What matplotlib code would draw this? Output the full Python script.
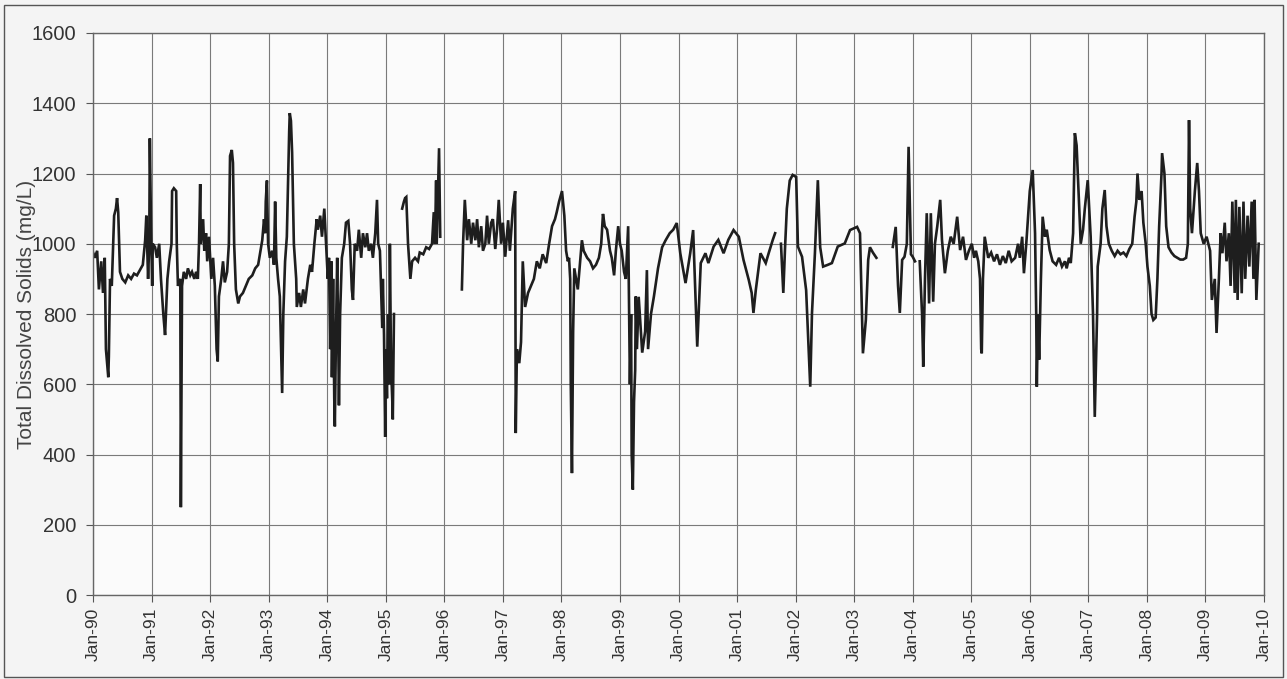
import numpy as np
import matplotlib
matplotlib.use("Agg")
import matplotlib.pyplot as plt
from matplotlib.patches import Rectangle

plt.rcParams['font.family'] = ['Liberation Sans', 'DejaVu Sans']

nan = float('nan')

# decimal year of each sample (nan = gap in record)
years = [
    1990.00, 1990.03, 1990.07, 1990.10, 1990.14, 1990.17, 1990.20, 1990.22, 1990.26, 1990.27,
    1990.29, 1990.32, 1990.36, 1990.39, 1990.41, 1990.43, 1990.46, 1990.50, 1990.55, 1990.60,
    1990.65, 1990.70, 1990.75, 1990.80, 1990.85, 1990.89, 1990.91, 1990.92, 1990.94, 1990.96,
    1990.97, 1990.99, 1991.01,
    1991.02, 1991.06, 1991.09, 1991.13, 1991.16, 1991.20, 1991.23, 1991.27, 1991.30, 1991.34,
    1991.35, 1991.38, 1991.42, 1991.43, 1991.45, 1991.49, 1991.50, 1991.52, 1991.55, 1991.59,
    1991.62, 1991.66, 1991.69, 1991.73, 1991.76, 1991.79, 1991.81, 1991.83, 1991.84, 1991.88,
    1991.90, 1991.93, 1991.95, 1991.98, 1992.02, 1992.05,
    1992.08, 1992.11, 1992.13, 1992.15, 1992.19, 1992.22, 1992.25, 1992.29, 1992.32, 1992.34,
    1992.37, 1992.39, 1992.41, 1992.44, 1992.48, 1992.51, 1992.56, 1992.61, 1992.66, 1992.72,
    1992.77, 1992.82, 1992.85, 1992.89, 1992.92, 1992.94, 1992.95, 1992.97, 1992.99,
    1993.02, 1993.06, 1993.09, 1993.11, 1993.13, 1993.16, 1993.19, 1993.23, 1993.25, 1993.28,
    1993.31, 1993.35, 1993.36, 1993.38, 1993.40, 1993.43, 1993.47, 1993.48, 1993.52, 1993.55,
    1993.59, 1993.62, 1993.67, 1993.71, 1993.74, 1993.78, 1993.82, 1993.84, 1993.88, 1993.91,
    1993.95, 1993.98, 1994.01,
    1994.03, 1994.05, 1994.07, 1994.08, 1994.10, 1994.12, 1994.13, 1994.15, 1994.17, 1994.19,
    1994.20, 1994.22, 1994.25, 1994.29, 1994.32, 1994.36, 1994.39, 1994.42, 1994.44, 1994.47,
    1994.51, 1994.54, 1994.58, 1994.61, 1994.65, 1994.68, 1994.71, 1994.75, 1994.78, 1994.82,
    1994.85, 1994.87, 1994.90, 1994.94, 1994.95, 1994.97, 1994.99,
    1995.00, 1995.02, 1995.04, 1995.06, 1995.07, 1995.09, 1995.11, 1995.12, 1995.14, nan,
    1995.28, 1995.31, 1995.33, 1995.35, 1995.38, 1995.42, 1995.45, 1995.50, 1995.55, 1995.58,
    1995.64, 1995.69, 1995.74, 1995.79, 1995.82, 1995.84, 1995.86, 1995.87, 1995.91, 1995.93, nan,
    1996.30, 1996.32, 1996.35, 1996.39, 1996.42, 1996.46, 1996.49, 1996.53, 1996.56, 1996.59,
    1996.63, 1996.66, 1996.70, 1996.73, 1996.76, 1996.80, 1996.83, 1996.87, 1996.90, 1996.93,
    1996.97,
    1997.00, 1997.04, 1997.09, 1997.12, 1997.17, 1997.21, 1997.22, 1997.24, 1997.28, 1997.31,
    1997.34, 1997.38, 1997.43, 1997.48, 1997.53, 1997.58, 1997.63, 1997.68, 1997.74, 1997.79,
    1997.84, 1997.89, 1997.92, 1997.96,
    1998.01, 1998.05, 1998.08, 1998.11, 1998.13, 1998.15, 1998.16, 1998.18, 1998.20, 1998.22,
    1998.25, 1998.28, 1998.32, 1998.35, 1998.38, 1998.44, 1998.49, 1998.54, 1998.59, 1998.64,
    1998.68, 1998.71, 1998.74, 1998.78, 1998.83, 1998.86, 1998.90, 1998.93, 1998.97,
    1999.00, 1999.03, 1999.07, 1999.10, 1999.14, 1999.15, 1999.17, 1999.19, 1999.20, 1999.22,
    1999.24, 1999.26, 1999.27, 1999.29, 1999.32, 1999.38, 1999.43, 1999.46, 1999.48, 1999.53,
    1999.58, 1999.65, 1999.72, 1999.78, 1999.85, 1999.91, 1999.97,
    2000.03, 2000.12, 2000.20, 2000.25, 2000.32, 2000.38, 2000.46, 2000.51, 2000.60, 2000.68,
    2000.77, 2000.85, 2000.94,
    2001.03, 2001.11, 2001.20, 2001.25, 2001.28, 2001.32, 2001.40, 2001.49, 2001.54, 2001.61,
    2001.65, nan, 2001.75, 2001.79, 2001.82, 2001.85, 2001.90, 2001.95,
    2002.01, 2002.04, 2002.11, 2002.18, 2002.25, 2002.28, 2002.33, 2002.38, 2002.42, 2002.47,
    2002.55, 2002.62, 2002.72, 2002.84, 2002.93,
    2003.05, 2003.10, 2003.15, 2003.20, 2003.24, 2003.27, 2003.32, 2003.38, nan,
    2003.66, 2003.71, 2003.75, 2003.78, 2003.82, 2003.86, 2003.90, 2003.93, 2003.97,
    2004.00, 2004.04, nan,
    2004.12, 2004.16, 2004.18, 2004.21, 2004.24, 2004.28, 2004.31, 2004.35, 2004.38, 2004.42,
    2004.47, 2004.50, 2004.55, 2004.60, 2004.65, 2004.70, 2004.76, 2004.81, 2004.86, 2004.91,
    2004.96,
    2005.01, 2005.05, 2005.08, 2005.12, 2005.15, 2005.17, 2005.18, 2005.20, 2005.23, 2005.29,
    2005.34, 2005.39, 2005.44, 2005.49, 2005.54, 2005.59, 2005.64, 2005.69, 2005.75, 2005.80,
    2005.83, 2005.87, 2005.90, 2005.94, 2005.97,
    2006.00, 2006.05, 2006.09, 2006.11, 2006.12, 2006.14, 2006.16, 2006.19, 2006.22, 2006.26,
    2006.29, 2006.34, 2006.39, 2006.45, 2006.50, 2006.55, 2006.60, 2006.63, 2006.67, 2006.70,
    2006.74, 2006.77, 2006.80, 2006.84, 2006.87, 2006.91, 2006.94, 2006.99,
    2007.04, 2007.08, 2007.11, 2007.15, 2007.16, 2007.21, 2007.24, 2007.28, 2007.31, 2007.35,
    2007.40, 2007.45, 2007.50, 2007.55, 2007.60, 2007.65, 2007.70, 2007.75, 2007.79, 2007.82,
    2007.84, 2007.87, 2007.91, 2007.94, 2007.98,
    2008.01, 2008.05, 2008.08, 2008.11, 2008.15, 2008.18, 2008.21, 2008.25, 2008.26, 2008.30,
    2008.33, 2008.37, 2008.42, 2008.47, 2008.52, 2008.57, 2008.62, 2008.67, 2008.70, 2008.72,
    2008.74, 2008.77, 2008.82, 2008.86, 2008.89, 2008.92, 2008.97,
    2009.02, 2009.08, 2009.11, 2009.16, 2009.19, 2009.23, 2009.26, 2009.29, 2009.33, 2009.36,
    2009.40, 2009.43, 2009.46, 2009.50, 2009.52, 2009.55, 2009.58, 2009.62, 2009.65, 2009.68,
    2009.72, 2009.75, 2009.79, 2009.82, 2009.84, 2009.87, 2009.91,
]

# total dissolved solids, mg/L (nan = gap in record)
tds = [
    975, 960, 980, 870, 950, 860, 960, 700, 620, 680,
    900, 880, 1080, 1100, 1130, 1090, 920, 900, 890, 910,
    900, 915, 910, 925, 940, 1010, 1080, 1020, 900, 1000,
    1300, 1050, 880,
    1000, 990, 960, 1000, 900, 800, 740, 900, 950, 1000,
    1150, 1158, 1150, 1000, 880, 900, 250, 880, 920, 900,
    930, 910, 920, 900, 920, 900, 1000, 1170, 1000, 1070,
    980, 1030, 950, 1020, 900, 960,
    880, 700, 665, 850, 900, 950, 890, 920, 1000, 1250,
    1267, 1230, 1000, 870, 830, 850, 860, 880, 900, 910,
    930, 940, 970, 1010, 1070, 1030, 1120, 1180, 1000,
    960, 980, 940, 1120, 960, 900, 850, 575, 800, 950,
    1020, 1320, 1372, 1350, 1260, 1000, 900, 820, 860, 820,
    870, 830, 900, 940, 920, 1000, 1070, 1040, 1080, 1020,
    1100, 1000, 900,
    960, 700, 950, 620, 900, 560, 480, 750, 960, 700,
    540, 800, 960, 1000, 1060, 1065, 1000, 870, 840, 1000,
    980, 1040, 960, 1030, 990, 1030, 980, 1000, 960, 1030,
    1125, 1000, 980, 760, 900, 740, 450,
    700, 560, 800, 600, 1000, 650, 560, 500, 800, nan,
    1100, 1120, 1130, 1133, 1000, 900, 950, 960, 950, 975,
    970, 990, 985, 1000, 1090, 1000, 1180, 1000, 1272, 1020, nan,
    870, 1000, 1125, 1010, 1070, 1000, 1060, 1010, 1070, 990,
    1050, 980, 1000, 1080, 1000, 1060, 1070, 985, 1040, 1125,
    1000,
    1060, 963, 1067, 980, 1100, 1150, 461, 700, 660, 720,
    950, 820, 860, 880, 900, 950, 930, 970, 945, 1000,
    1050, 1070, 1090, 1120,
    1150, 1080, 980, 950, 960, 900, 600, 347, 750, 930,
    900, 870, 950, 1010, 980, 960, 950, 930, 940, 960,
    1000, 1085, 1050, 1040, 980, 960, 910, 980, 1050,
    1000, 980, 920, 900, 1050, 900, 600, 800, 400, 300,
    550, 640, 850, 700, 849, 690, 750, 925, 700, 800,
    850, 930, 990, 1010, 1030, 1040, 1059,
    973, 888, 973, 1039, 707, 945, 973, 945, 992, 1011,
    973, 1011, 1039,
    1020, 954, 897, 860, 803, 868, 973, 945, 973, 1011,
    1030, nan, 1000, 860, 990, 1100, 1180, 1196,
    1190, 992, 963, 868, 593, 803, 973, 1181, 990, 935,
    940, 945, 992, 1001, 1039,
    1048, 1030, 688, 783, 954, 990, 975, 960, nan,
    991, 1048, 880, 803, 954, 963, 1000, 1276, 970,
    963, 950, nan,
    950, 800, 650, 900, 1087, 830, 1087, 835, 1000, 1050,
    1125, 1011, 916, 980, 1020, 1000, 1077, 982, 1020, 954,
    980,
    1000, 960, 980, 950, 900, 700, 688, 900, 1020, 960,
    975, 950, 970, 940, 965, 945, 980, 950, 960, 1000,
    960, 1020, 916, 1000, 1077,
    1150, 1210, 1030, 800, 593, 800, 670, 900, 1077, 1020,
    1040, 982, 950, 940, 960, 935, 950, 930, 960, 945,
    1030, 1315, 1280, 1116, 1000, 1040, 1100, 1181,
    1020, 800, 507, 800, 935, 1000, 1100, 1153, 1050, 1000,
    980, 965, 980, 970, 975, 965, 985, 1000, 1077, 1120,
    1200, 1125, 1150, 1060, 1000,
    935, 880, 800, 783, 790, 900, 1050, 1200, 1258, 1200,
    1050, 990, 975, 965, 960, 955, 955, 960, 1000, 1352,
    1100, 1030, 1150, 1230, 1150, 1030, 1000,
    1020, 980, 840, 900, 746, 900, 1030, 973, 1060, 950,
    1030, 880, 1120, 860, 1125, 840, 1105, 859, 1120, 900,
    1080, 935, 1120, 900, 1125, 840, 1000,
]

tick_years = list(range(1990, 2011))
tick_labels = ['Jan-90', 'Jan-91', 'Jan-92', 'Jan-93', 'Jan-94', 'Jan-95', 'Jan-96',
               'Jan-97', 'Jan-98', 'Jan-99', 'Jan-00', 'Jan-01', 'Jan-02', 'Jan-03',
               'Jan-04', 'Jan-05', 'Jan-06', 'Jan-07', 'Jan-08', 'Jan-09', 'Jan-10']
y_ticks = [0, 200, 400, 600, 800, 1000, 1200, 1400, 1600]

fig = plt.figure(figsize=(12.87, 6.79), dpi=100)
fig.patch.set_facecolor('#f4f4f4')
fig.patches.append(Rectangle((0.003, 0.003), 0.994, 0.99, transform=fig.transFigure,
                             fill=False, edgecolor='#555555', linewidth=1.0))

ax = fig.add_axes([0.0723, 0.1237, 0.9098, 0.8277])
ax.set_facecolor('#fbfbfb')
ax.plot(years, tds, color='#1e1e1e', linewidth=1.9, solid_joinstyle='miter')

ax.set_xlim(1990, 2010)
ax.set_ylim(0, 1600)
ax.set_xticks(tick_years)
ax.set_xticklabels(tick_labels, rotation=90, fontsize=12.5, color='#333333')
ax.set_yticks(y_ticks)
ax.set_yticklabels([str(v) for v in y_ticks], fontsize=14.5, color='#333333')
ax.set_ylabel('Total Dissolved Solids (mg/L)', fontsize=15, color='#444444', labelpad=-3)
ax.grid(True, color='#7a7a7a', linewidth=0.8)
ax.set_axisbelow(True)
ax.tick_params(axis='both', direction='out', length=5, width=0.8, color='#555555')
ax.tick_params(axis='y', pad=7)
ax.tick_params(axis='x', pad=4)
for s in ax.spines.values():
    s.set_color('#666666')
    s.set_linewidth(1.0)

fig.savefig('out.png', dpi=100, facecolor=fig.get_facecolor())
